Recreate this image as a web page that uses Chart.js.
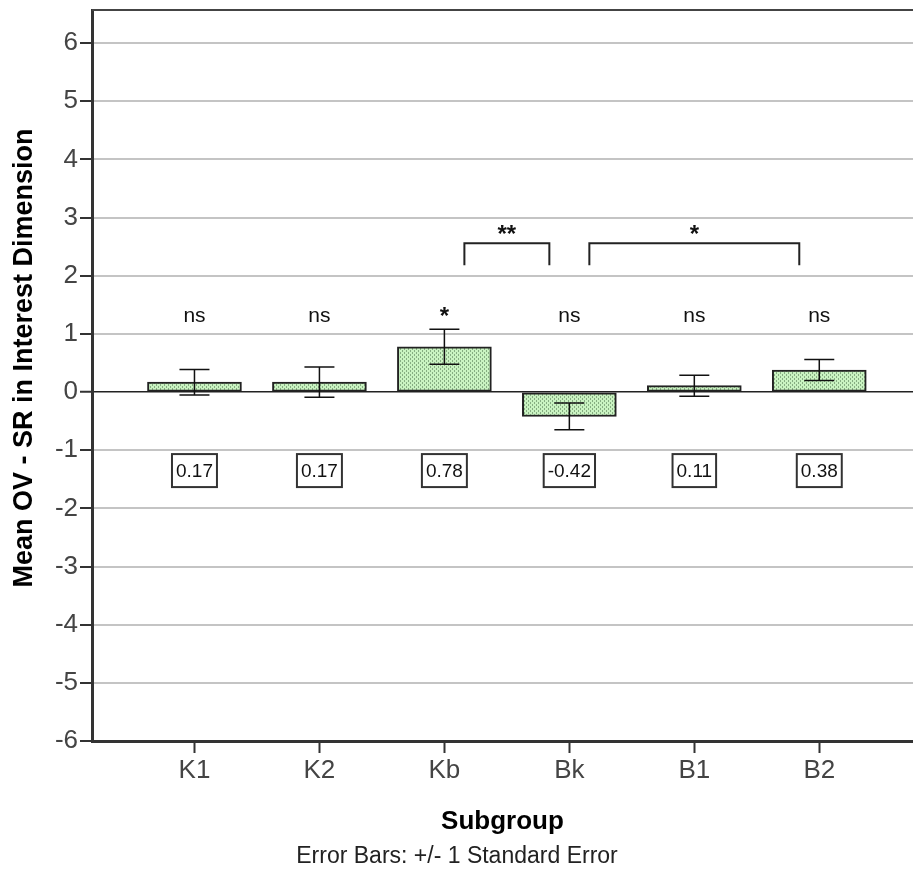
<!DOCTYPE html>
<html>
<head>
<meta charset="utf-8">
<title>Mean OV - SR in Interest Dimension by Subgroup</title>
<script src="https://cdn.jsdelivr.net/npm/chart.js@4.4.1/dist/chart.umd.min.js"></script>
<style>
  body { margin: 0; background: #fff; }
  #wrap { width: 913px; height: 875px; }
</style>
</head>
<body>
<div id="wrap"><canvas id="meanChart" width="913" height="875"></canvas></div>
<script>
// Data
const categories = ['K1', 'K2', 'Kb', 'Bk', 'B1', 'B2'];
const means = [0.17, 0.17, 0.78, -0.42, 0.11, 0.38];
const stdErrors = [0.22, 0.26, 0.30, 0.23, 0.18, 0.18];
const sigLabels = ['ns', 'ns', '*', 'ns', 'ns', 'ns'];
const yTicks = [-6, -5, -4, -3, -2, -1, 0, 1, 2, 3, 4, 5, 6];
const comparisons = [
    { from: 2, to: 3, label: '**' },
    { from: 3, to: 5, label: '*' }
];

const FONT = '"Liberation Sans", Arial, sans-serif';

// dotted green fill like the SPSS pattern
function makePattern() {
    const c = document.createElement('canvas');
    c.width = 4;
    c.height = 4;
    const g = c.getContext('2d');
    g.fillStyle = '#c9f3c1';
    g.fillRect(0, 0, 4, 4);
    g.fillStyle = '#86ad82';
    g.fillRect(0, 0, 1, 2);
    g.fillRect(2, 2, 1, 2);
    return g.createPattern(c, 'repeat');
}

const ctx = document.getElementById('meanChart').getContext('2d');

const annotations = {
    id: 'annotations',
    afterDatasetsDraw(chart) {
        const g = chart.ctx;
        const xs = chart.scales.x;
        const ys = chart.scales.y;
        const area = chart.chartArea;
        g.save();

        // top frame line
        g.strokeStyle = '#444';
        g.lineWidth = 2;
        g.beginPath();
        g.moveTo(area.left, area.top);
        g.lineTo(area.right, area.top);
        g.stroke();

        // error bars
        g.strokeStyle = '#111';
        g.lineWidth = 1.5;
        means.forEach((m, i) => {
            const x = xs.getPixelForValue(i);
            const yt = ys.getPixelForValue(m + stdErrors[i]);
            const yb = ys.getPixelForValue(m - stdErrors[i]);
            g.beginPath();
            g.moveTo(x, yt); g.lineTo(x, yb);
            g.moveTo(x - 15, yt); g.lineTo(x + 15, yt);
            g.moveTo(x - 15, yb); g.lineTo(x + 15, yb);
            g.stroke();
        });

        // significance labels above each bar
        g.fillStyle = '#111';
        g.textAlign = 'center';
        g.textBaseline = 'middle';
        sigLabels.forEach((s, i) => {
            const star = s.indexOf('*') >= 0;
            g.font = star ? 'bold 24px ' + FONT : '21px ' + FONT;
            g.fillText(s, xs.getPixelForValue(i), ys.getPixelForValue(star ? 1.28 : 1.31));
        });

        // value boxes
        g.font = '19px ' + FONT;
        means.forEach((m, i) => {
            const txt = m.toFixed(2);
            const w = g.measureText(txt).width + 8;
            const h = 33;
            const x = xs.getPixelForValue(i);
            const y = ys.getPixelForValue(-1.35);
            g.fillStyle = '#fff';
            g.fillRect(x - w / 2, y - h / 2, w, h);
            g.strokeStyle = '#333';
            g.lineWidth = 2;
            g.strokeRect(x - w / 2, y - h / 2, w, h);
            g.fillStyle = '#111';
            g.fillText(txt, x, y + 1);
        });

        // comparison brackets
        g.strokeStyle = '#222';
        g.lineWidth = 2;
        comparisons.forEach(c => {
            const x1 = xs.getPixelForValue(c.from) + 20;
            const x2 = xs.getPixelForValue(c.to) - 20;
            const yTop = ys.getPixelForValue(2.56);
            const yLeg = ys.getPixelForValue(2.18);
            g.beginPath();
            g.moveTo(x1, yLeg); g.lineTo(x1, yTop); g.lineTo(x2, yTop); g.lineTo(x2, yLeg);
            g.stroke();
            g.font = 'bold 24px ' + FONT;
            g.fillStyle = '#111';
            g.fillText(c.label, (x1 + x2) / 2, ys.getPixelForValue(2.7));
        });

        // axis titles and footnote
        g.fillStyle = '#000';
        g.font = 'bold 26px ' + FONT;
        g.fillText('Subgroup', (area.left + area.right) / 2, 822);
        g.font = '23px ' + FONT;
        g.fillStyle = '#222';
        g.fillText('Error Bars: +/- 1 Standard Error', 457, 857);

        g.save();
        g.translate(25, 358);
        g.rotate(-Math.PI / 2);
        g.font = 'bold 27px ' + FONT;
        g.fillStyle = '#000';
        g.fillText('Mean OV - SR in Interest Dimension', 0, 0);
        g.restore();

        g.restore();
    }
};

new Chart(ctx, {
    type: 'bar',
    data: {
        datasets: [{
            label: 'Mean',
            data: means.map((m, i) => ({ x: i, y: m })),
            backgroundColor: makePattern(),
            borderColor: '#222',
            borderWidth: 2,
            borderSkipped: false,
            barThickness: 94
        }]
    },
    options: {
        responsive: false,
        animation: false,
        devicePixelRatio: 1,
        layout: { padding: { top: 10, right: 0, left: 0, bottom: 0 } },
        plugins: {
            legend: { display: false },
            tooltip: { enabled: false }
        },
        scales: {
            x: {
                type: 'linear',
                min: -0.82,
                max: 5.75,
                offset: false,
                afterBuildTicks: scale => {
                    scale.ticks = categories.map((c, i) => ({ value: i }));
                },
                afterFit: scale => {
                    scale.height = 134;
                    scale.paddingLeft = 0;
                    scale.paddingRight = 0;
                },
                grid: {
                    offset: false,
                    drawOnChartArea: false,
                    drawTicks: true,
                    tickLength: 12,
                    tickColor: '#333',
                    tickWidth: 2
                },
                border: { color: '#333', width: 3 },
                ticks: {
                    padding: 2,
                    color: '#444',
                    font: { family: FONT, size: 26 },
                    callback: v => categories[v]
                }
            },
            y: {
                min: -6,
                max: 6.57,
                afterBuildTicks: scale => {
                    scale.ticks = yTicks.map(v => ({ value: v }));
                },
                afterFit: scale => {
                    scale.width = 92;
                    scale.paddingTop = 0;
                    scale.paddingBottom = 0;
                },
                grid: {
                    color: c => (c.tick && c.tick.value === 0) ? '#222' : '#c4c4c4',
                    lineWidth: c => (c.tick && c.tick.value === 0) ? 1.5 : 2,
                    drawTicks: true,
                    tickLength: 12,
                    tickColor: '#333',
                    tickWidth: 2
                },
                border: { color: '#333', width: 3 },
                ticks: {
                    padding: 2,
                    color: '#444',
                    font: { family: FONT, size: 26 }
                }
            }
        }
    },
    plugins: [annotations]
});
</script>
</body>
</html>
